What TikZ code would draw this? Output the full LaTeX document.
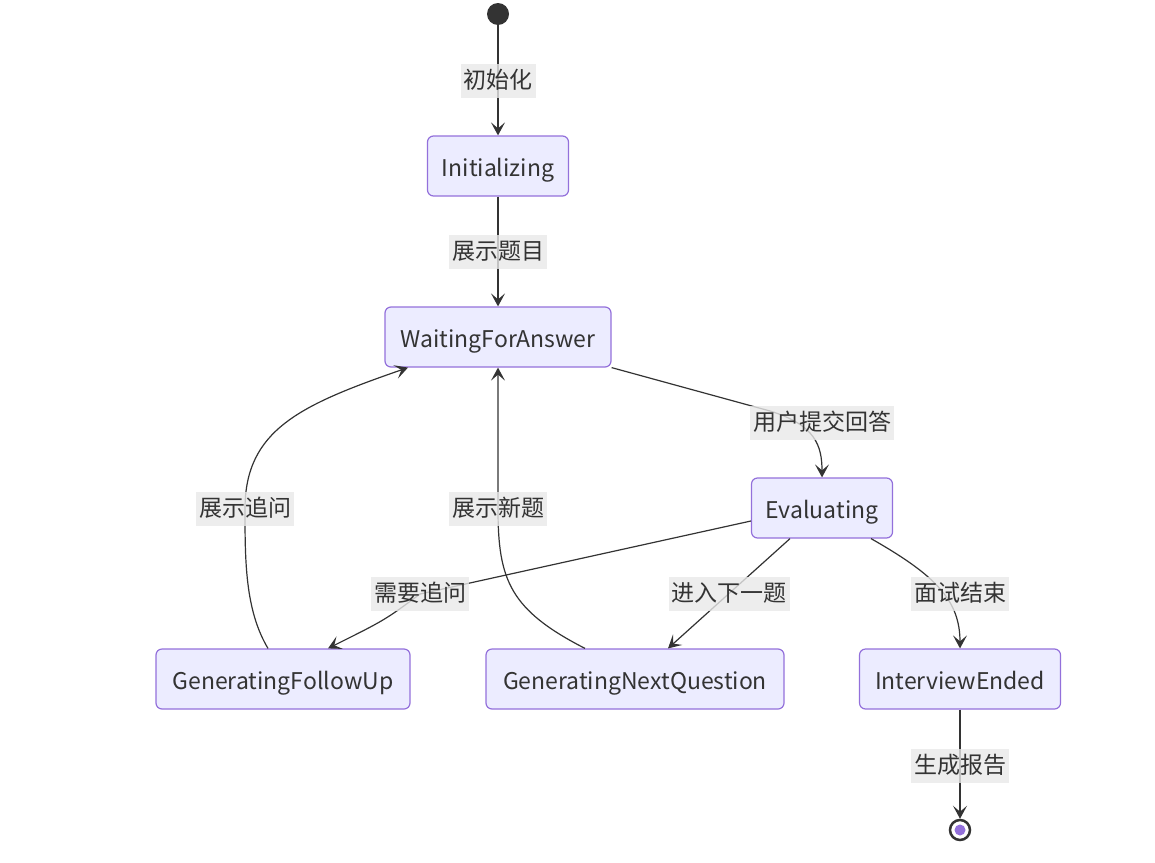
\documentclass[tikz,border=0pt]{standalone}
\usepackage{fontspec}
\setmainfont{Noto Sans CJK SC}
\usetikzlibrary{arrows.meta}
\definecolor{stateFill}{HTML}{ECECFF}
\definecolor{stateLine}{HTML}{9370DB}
\definecolor{ink}{HTML}{333333}
\definecolor{labelBg}{HTML}{E8E8E8}

\begin{document}
\begin{tikzpicture}[x=1pt, y=-1pt,
    state/.style={draw=stateLine, fill=stateFill, line width=1.2pt, rounded corners=6pt,
      minimum height=60pt, text height=22pt, text depth=2pt, text=ink,
      font=\fontsize{23}{27}\selectfont},
    lbl/.style={fill=labelBg, fill opacity=0.8, text opacity=1, text=ink, inner xsep=3pt,
      inner ysep=6pt, text height=18pt, text depth=4pt, font=\fontsize{23}{27}\selectfont},
    trans/.style={draw=ink, line width=1.2pt, -{Stealth[length=13pt, width=14pt, inset=6pt]}}]

  \useasboundingbox (0, 0) rectangle (1155, 862);

  % start and end
  \node[circle, fill=ink, minimum size=22pt, inner sep=0pt] (start) at (498, 14) {};
  \node[circle, draw=ink, line width=2.5pt, fill=white, minimum size=20pt, inner sep=0pt] (finish) at (960, 830) {};
  \node[circle, fill=stateLine, minimum size=11pt, inner sep=0pt] at (finish) {};

  % states
  \node[state, minimum width=141pt] (init) at (498, 166) {Initializing};
  \node[state, minimum width=226pt] (wait) at (498, 337) {WaitingForAnswer};
  \node[state, minimum width=141pt] (eval) at (822, 508) {Evaluating};
  \node[state, minimum width=254pt] (followup) at (283, 679) {GeneratingFollowUp};
  \node[state, minimum width=298pt] (nextq) at (635, 679) {GeneratingNextQuestion};
  \node[state, minimum width=201pt] (ended) at (960, 679) {InterviewEnded};

  % label positions
  \coordinate (c1) at (498, 81);
  \coordinate (c2) at (498, 252);
  \coordinate (c3) at (822, 423);
  \coordinate (c4) at (245, 509);
  \coordinate (c5) at (498, 509);
  \coordinate (c6) at (420, 594);
  \coordinate (c7) at (729, 594);
  \coordinate (c8) at (960, 594);
  \coordinate (c9) at (960, 766);

  % transitions
  \draw[trans] (start) -- (c1) -- (init);
  \draw[trans] (init) -- (c2) -- (wait);
  \draw[trans] (wait.south east) -- (770, 411) .. controls (815, 425) and (822, 445) .. (eval.north);
  \draw[trans] (eval.west |- 0, 521) -- (c6) .. controls (385, 620) .. ([xshift=45pt]followup.north);
  \draw[trans] ([xshift=-32pt]eval.south) -- ([xshift=33pt]nextq.north);
  \draw[trans] ([xshift=49pt]eval.south) .. controls (935, 575) and (960, 600) .. (ended.north);
  \draw[trans] ([xshift=-15pt]followup.north) .. controls (245, 610) and (245, 560) .. (c4)
    .. controls (245, 430) and (300, 405) .. ([xshift=-90pt]wait.south);
  \draw[trans] ([xshift=-50pt]nextq.north) .. controls (510, 610) and (498, 580) .. (c5) -- (wait.south);
  \draw[trans] (ended) -- (c9) -- (finish);

  % labels
  \node[lbl] (l1) at (c1) {初始化};
  \node[lbl] (l2) at (c2) {展示题目};
  \node[lbl] (l3) at (c3) {用户提交回答};
  \node[lbl] (l4) at (c4) {展示追问};
  \node[lbl] (l5) at (c5) {展示新题};
  \node[lbl] (l6) at (c6) {需要追问};
  \node[lbl] (l7) at (c7) {进入下一题};
  \node[lbl] (l8) at (c8) {面试结束};
  \node[lbl] (l9) at (c9) {生成报告};

\end{tikzpicture}
\end{document}
